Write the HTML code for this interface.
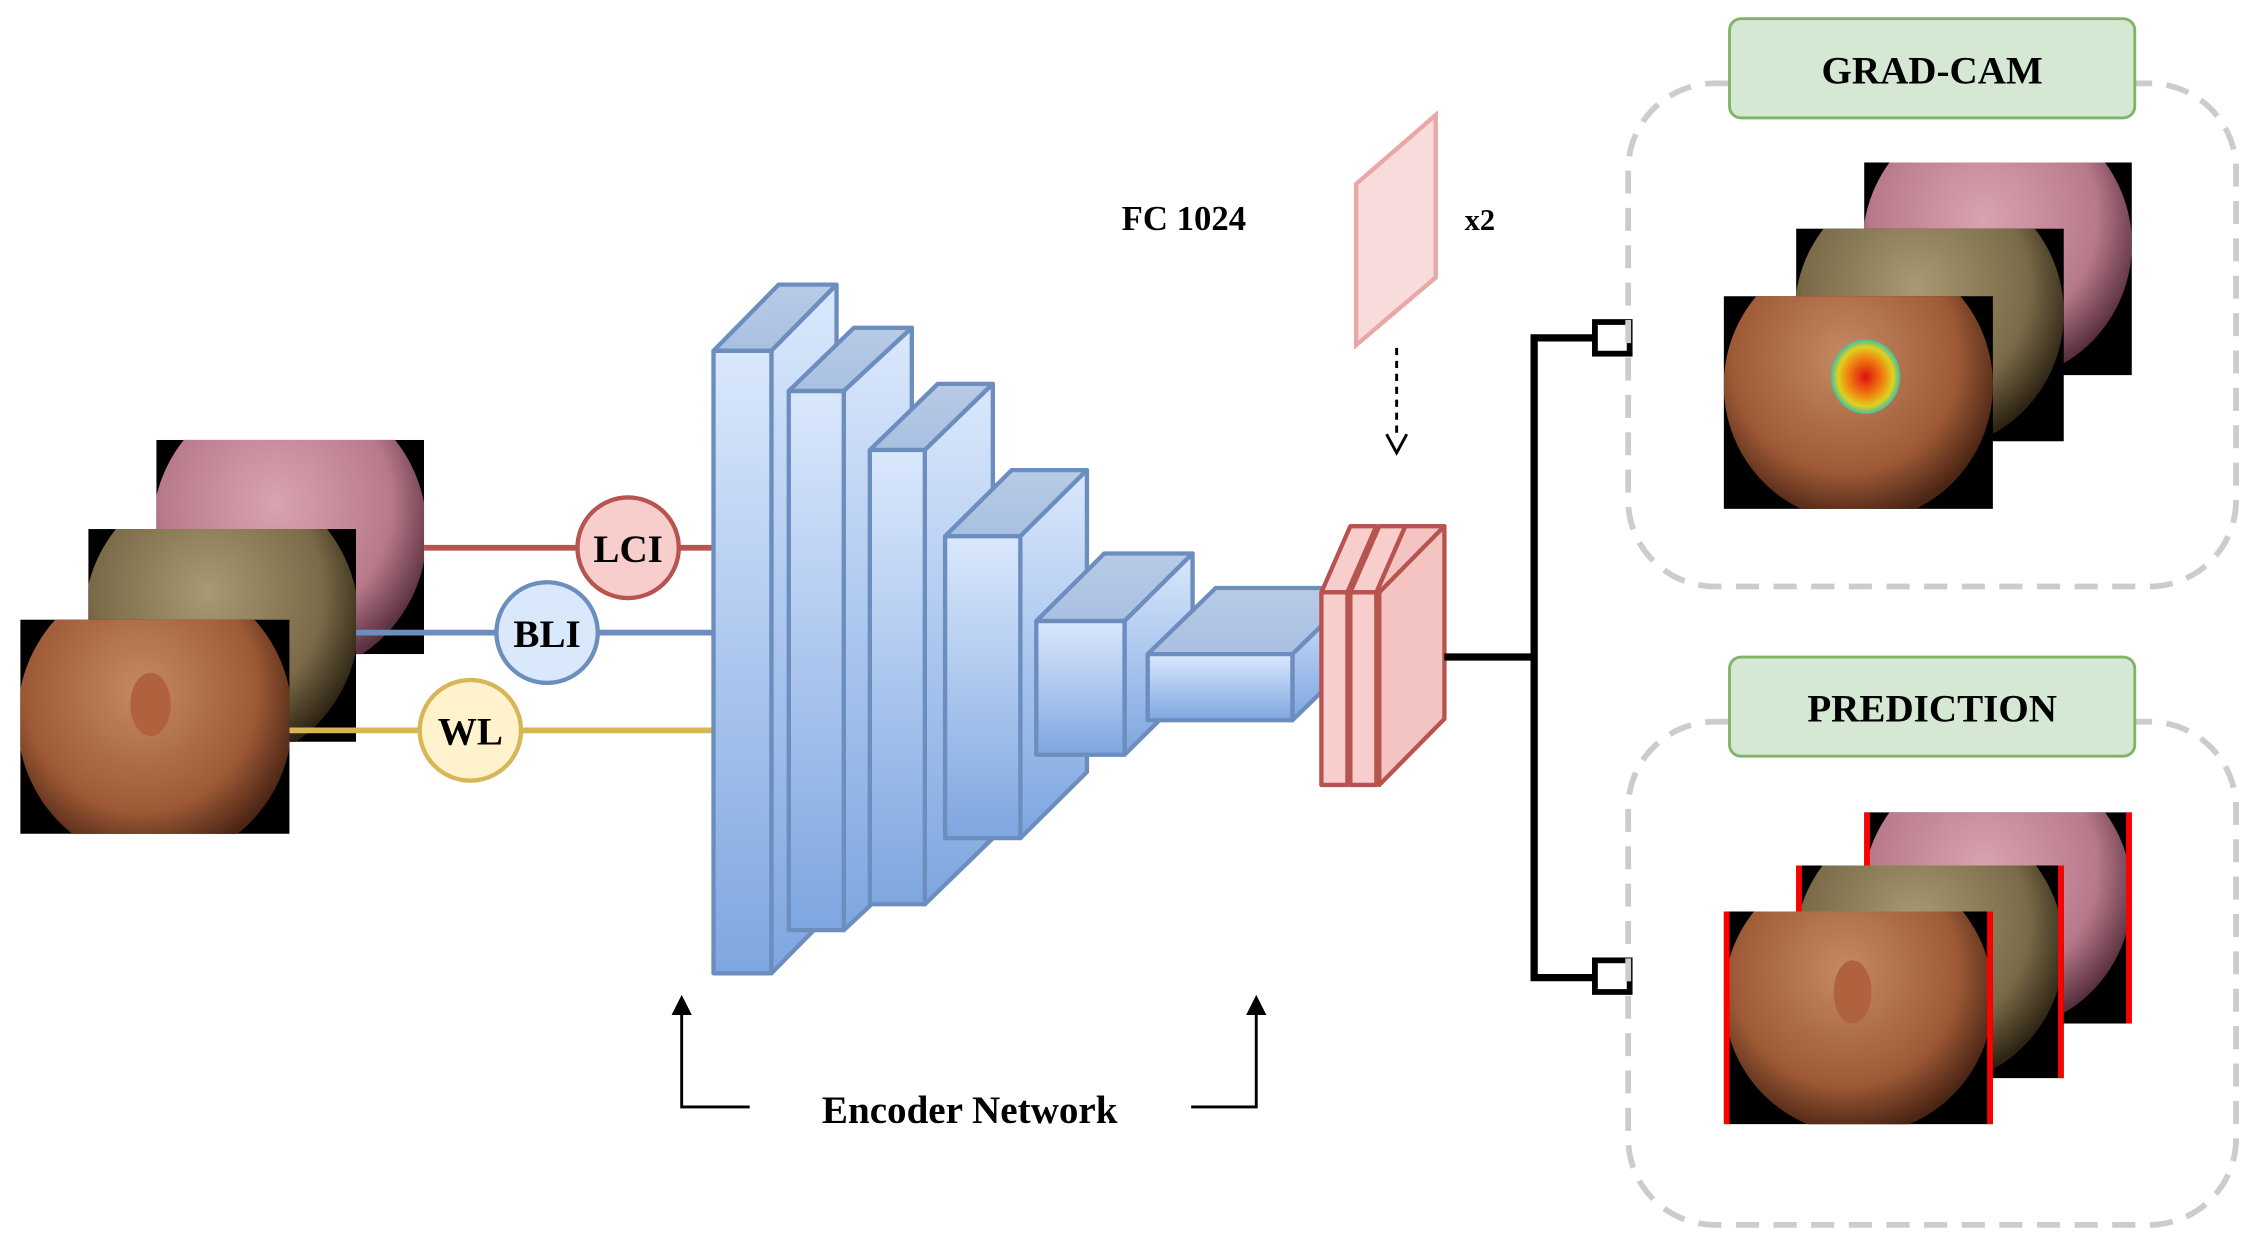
<!DOCTYPE html>
<html><head><meta charset="utf-8"><style>html,body{margin:0;padding:0;background:#fff}svg{display:block}</style></head>
<body>
<svg width="2252" height="1245" viewBox="0 0 1556 866" preserveAspectRatio="none" xmlns="http://www.w3.org/2000/svg" font-family="Liberation Serif, serif" font-weight="bold">
<defs>
<linearGradient id="bl" x1="0" y1="0" x2="0" y2="1"><stop offset="0" stop-color="#dae8fc"/><stop offset="1" stop-color="#7ea6e0"/></linearGradient>
<linearGradient id="bt" x1="0" y1="0" x2="0" y2="1"><stop offset="0" stop-color="#b8cbe6"/><stop offset="1" stop-color="#a9c0e2"/></linearGradient>
<radialGradient id="wl" cx="0.45" cy="0.4" r="0.6"><stop offset="0" stop-color="#c58a63"/><stop offset="0.7" stop-color="#9e5a36"/><stop offset="1" stop-color="#4a2414"/></radialGradient>
<radialGradient id="bli" cx="0.45" cy="0.4" r="0.6"><stop offset="0" stop-color="#a89a73"/><stop offset="0.7" stop-color="#7a6a48"/><stop offset="1" stop-color="#2e2414"/></radialGradient>
<radialGradient id="lci" cx="0.45" cy="0.4" r="0.6"><stop offset="0" stop-color="#d9a3b0"/><stop offset="0.7" stop-color="#b87a8a"/><stop offset="1" stop-color="#5a3040"/></radialGradient>
<radialGradient id="hot" cx="0.5" cy="0.5" r="0.5"><stop offset="0" stop-color="#e01010"/><stop offset="0.5" stop-color="#f08010"/><stop offset="0.8" stop-color="#e0d020"/><stop offset="1" stop-color="#40c0a0"/></radialGradient>
</defs>
<!-- left images -->
<svg x="108" y="306" width="185" height="149"><rect width="185" height="149" fill="#000"/><ellipse cx="92" cy="64" rx="95" ry="100" fill="url(#lci)"/></svg>
<svg x="61" y="368" width="185" height="148"><rect width="185" height="148" fill="#000"/><ellipse cx="92" cy="64" rx="95" ry="100" fill="url(#bli)"/></svg>
<svg x="14" y="431" width="186" height="149"><rect width="186" height="149" fill="#000"/><ellipse cx="93" cy="69" rx="95" ry="100" fill="url(#wl)"/><ellipse cx="90" cy="59" rx="14" ry="22" fill="#b0613e"/></svg>
<!-- lines -->
<line x1="293" y1="381" x2="493" y2="381" stroke="#b85450" stroke-width="4"/>
<line x1="246" y1="440" x2="493" y2="440" stroke="#6c8ebf" stroke-width="4"/>
<line x1="200" y1="508" x2="493" y2="508" stroke="#d6b656" stroke-width="4"/>
<circle cx="434" cy="381" r="35" fill="#f8cecc" stroke="#b85450" stroke-width="3"/>
<circle cx="378" cy="440" r="35" fill="#dae8fc" stroke="#6c8ebf" stroke-width="3"/>
<circle cx="325" cy="508" r="35" fill="#fff2cc" stroke="#d6b656" stroke-width="3"/>
<g font-size="27" text-anchor="middle"><text x="434" y="391">LCI</text><text x="378" y="450">BLI</text><text x="325" y="518">WL</text></g>
<!-- blocks -->
<g stroke="#6c8ebf" stroke-width="3" stroke-linejoin="round">
<path d="M493,244 L538,198 L578,198 L533,244Z" fill="url(#bt)"/><path d="M533,244 L578,198 L578,631 L533,677Z" fill="url(#bl)"/><rect x="493" y="244" width="40" height="433" fill="url(#bl)"/>
<path d="M545,272 L590,228 L630,228 L583,272Z" fill="url(#bt)"/><path d="M583,272 L630,228 L630,603 L583,647Z" fill="url(#bl)"/><rect x="545" y="272" width="38" height="375" fill="url(#bl)"/>
<path d="M601,313 L648,267 L686,267 L639,313Z" fill="url(#bt)"/><path d="M639,313 L686,267 L686,583 L639,629Z" fill="url(#bl)"/><rect x="601" y="313" width="38" height="316" fill="url(#bl)"/>
<path d="M653,373 L699,327 L751,327 L705,373Z" fill="url(#bt)"/><path d="M705,373 L751,327 L751,537 L705,583Z" fill="url(#bl)"/><rect x="653" y="373" width="52" height="210" fill="url(#bl)"/>
<path d="M716,432 L763,385 L824,385 L777,432Z" fill="url(#bt)"/><path d="M777,432 L824,385 L824,478 L777,525Z" fill="url(#bl)"/><rect x="716" y="432" width="61" height="93" fill="url(#bl)"/>
<path d="M793,455 L840,409 L940,409 L893,455Z" fill="url(#bt)"/><path d="M893,455 L940,409 L940,455 L893,501Z" fill="url(#bl)"/><rect x="793" y="455" width="100" height="46" fill="url(#bl)"/>
</g>
<!-- red plates -->
<g stroke="#b85450" stroke-width="3" fill="#f8cecc" stroke-linejoin="round">
<path d="M913,412 L933,366 L951,366 L931,412Z"/><path d="M931,412 L951,366 L951,500 L931,546Z"/><rect x="913" y="412" width="18" height="134"/>
<path d="M933,412 L953,366 L971,366 L951,412Z"/><rect x="933" y="412" width="18" height="134"/>
<path d="M951,412 L971,366 L998,366 L998,500 L953,546Z" fill="#f4c4c2"/>
<line x1="953" y1="412" x2="953" y2="546"/><line x1="953" y1="412" x2="998" y2="366"/>
</g>
<!-- FC -->
<g stroke="#e8a8a6" stroke-width="3" fill="#f8dcdb"><path d="M937,128 L992,80 L992,193 L937,240Z"/></g>
<text x="775" y="160" font-size="24">FC 1024</text><text x="1012" y="160" font-size="21">x2</text>
<line x1="965" y1="242" x2="965" y2="305" stroke="#000" stroke-width="2" stroke-dasharray="5,4"/>
<path d="M958,302 L965,315 L972,302" fill="none" stroke="#000" stroke-width="2"/>
<!-- connector -->
<g stroke="#000" stroke-width="5" fill="none"><path d="M998,457 H1060"/><path d="M1102,235 H1060 V680 H1102"/></g>
<rect x="1102" y="224" width="24" height="22" fill="#fff" stroke="#000" stroke-width="4"/>
<rect x="1102" y="668" width="24" height="22" fill="#fff" stroke="#000" stroke-width="4"/>
<!-- dashed boxes -->
<rect x="1125" y="58" width="420" height="350" rx="60" fill="none" stroke="#ccc" stroke-width="4" stroke-dasharray="16,10"/>
<rect x="1125" y="502" width="420" height="350" rx="60" fill="none" stroke="#ccc" stroke-width="4" stroke-dasharray="16,10"/>
<rect x="1195" y="13" width="280" height="69" rx="8" fill="#d5e8d4" stroke="#82b366" stroke-width="2"/>
<rect x="1195" y="457" width="280" height="69" rx="8" fill="#d5e8d4" stroke="#82b366" stroke-width="2"/>
<g font-size="27" text-anchor="middle"><text x="1335" y="58">GRAD-CAM</text><text x="1335" y="502">PREDICTION</text></g>
<!-- right images top -->
<svg x="1288" y="113" width="185" height="148"><rect width="185" height="148" fill="#000"/><ellipse cx="92" cy="57" rx="93" ry="95" fill="url(#lci)"/></svg>
<svg x="1241" y="159" width="185" height="148"><rect width="185" height="148" fill="#000"/><ellipse cx="92" cy="59" rx="93" ry="95" fill="url(#bli)"/></svg>
<svg x="1191" y="206" width="186" height="148"><rect width="186" height="148" fill="#000"/><ellipse cx="93" cy="62" rx="93" ry="95" fill="url(#wl)"/><ellipse cx="98" cy="56" rx="24" ry="26" fill="url(#hot)"/></svg>
<!-- right images bottom -->
<svg x="1288" y="565" width="185" height="147"><rect width="185" height="147" fill="#000"/><ellipse cx="92" cy="57" rx="93" ry="95" fill="url(#lci)"/><rect width="4" height="147" fill="#f00"/><rect x="181" width="4" height="147" fill="#f00"/></svg>
<svg x="1241" y="602" width="185" height="148"><rect width="185" height="148" fill="#000"/><ellipse cx="92" cy="58" rx="93" ry="95" fill="url(#bli)"/><rect width="4" height="148" fill="#f00"/><rect x="181" width="4" height="148" fill="#f00"/></svg>
<svg x="1191" y="634" width="186" height="148"><rect width="186" height="148" fill="#000"/><ellipse cx="93" cy="60" rx="93" ry="95" fill="url(#wl)"/><ellipse cx="89" cy="56" rx="13" ry="22" fill="#b0613e"/><rect width="4" height="148" fill="#f00"/><rect x="182" width="4" height="148" fill="#f00"/></svg>
<!-- encoder arrows -->
<g stroke="#000" stroke-width="2" fill="none"><path d="M518,770 H471 V696"/><path d="M823,770 H868 V696"/></g>
<path d="M464,706 L471,692 L478,706Z M861,706 L868,692 L875,706Z" fill="#000"/>
<text x="670" y="781" font-size="27" text-anchor="middle">Encoder Network</text>
</svg>
</body></html>
